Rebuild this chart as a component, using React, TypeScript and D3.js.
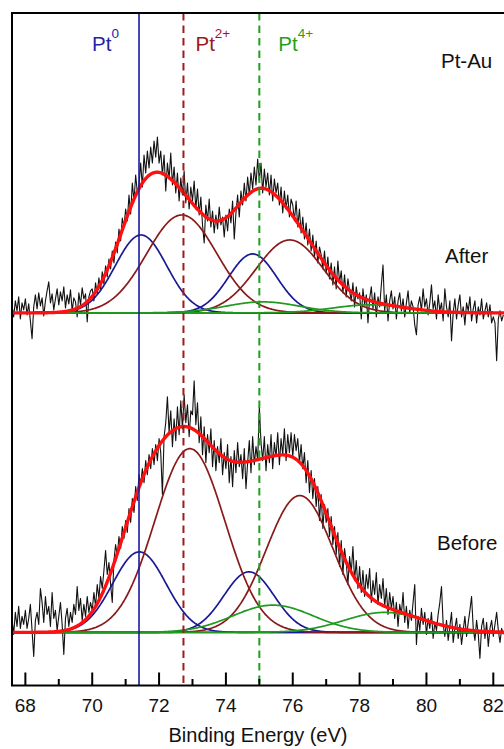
import React from "react";
import * as d3 from "d3";

// ---------- data ----------
const energyStart = 67.6; // eV, first data point
const energyStep = 0.05; // eV

// Measured spectra (intensity above the fitted baseline, a.u.)
const afterCounts = [
  8, -4, 12, 2, 16, -6, 10, 3,
  14, -2, 9, -8, -26, 6, 18, 4, 20, 7, 15, -3, 12, 22, 31, 10, 19, 3, 14, 24,
  8, 21, 12, 26, 5, 18, 9, 23, 2, 15, 11, -4, 20, 8, 25, 14, 19, -9, 16, 22,
  24, 12, 30, 19, 35, 22, 41, 29, 47, 36, 54, 44, 62, 50, 71, 60, 84, 72, 95, 86,
  104, 92, 118, 99, 130, 112, 138, 120, 128, 150, 126, 158, 140, 162, 145, 166, 150, 172, 156, 176,
  150, 162, 138, 158, 122, 150, 134, 160, 128, 146, 120, 140, 112, 135, 118, 142, 110, 130, 104, 126,
  112, 132, 104, 124, 98, 116, 88, 70, 108, 92, 114, 86, 102, 80, 98, 84, 106, 88, 96, 76,
  98, 82, 104, 90, 112, 74, 100, 118, 96, 122, 108, 130, 112, 136, 118, 140, 124, 146, 128, 154,
  132, 150, 120, 144, 126, 140, 118, 138, 112, 134, 120, 130, 108, 126, 100, 122, 104, 118, 96, 114,
  108, 92, 112, 86, 104, 80, 96, 74, 90, 68, 84, 62, 78, 56, 72, 50, 66, 58, 44, 62,
  40, 56, 34, 50, 28, 46, 24, 52, 30, 42, 20, 38, 16, 34, 22, 12, 30, 6, 26, 14,
  20, -6, 24, 8, 18, -10, 14, 26, 4, 20, -4, 16, 6, 28, 48, 2, 18, -8, 12, 22,
  4, 16, -6, 12, 20, 2, 14, -4, 10, 22, 0, 12, 6, -12, -22, 8, 16, 2, 24, 6,
  14, -2, 10, 28, 4, 12, -6, 18, 2, 10, -8, 24, 6, -4, 12, -28, 0, 14, -6, 8,
  18, -4, 6, -12, 10, 2, 16, -8, 4, 12, -10, 6, -2, 14, -6, 2, 10, -4, 8, -10,
  -4, -10, -48, -6, 2, -8, -2,
];

const beforeCounts = [
  14, -2, 20, 6, 26, 4, 16, 8,
  22, 4, 14, 28, 2, -24, 12, 20, 8, 44, 30, 10, 36, 18, 26, 6, 40, 14, 22, 2,
  16, 30, 8, -22, 14, 24, 6, 20, 10, 28, 18, 46, 22, 34, 12, 28, 16, 36, 20, 30,
  22, 40, 26, 48, 34, 56, 44, 62, 82, 58, 70, 48, 30, 72, 88, 76, 96, 84, 106, 94,
  112, 100, 124, 110, 134, 120, 146, 132, 158, 148, 164, 150, 172, 158, 178, 164, 184, 168, 188, 172,
  194, 180, 138, 196, 210, 236, 200, 222, 186, 214, 192, 226, 198, 232, 204, 238, 210, 228, 196, 222,
  218, 252, 208, 230, 190, 216, 178, 206, 170, 198, 180, 204, 166, 192, 162, 186, 170, 194, 158, 180,
  164, 188, 150, 176, 146, 182, 160, 190, 166, 178, 154, 184, 144, 170, 192, 160, 196, 168, 186, 172,
  226, 190, 172, 196, 162, 188, 170, 198, 164, 190, 176, 200, 168, 194, 178, 204, 172, 198, 180, 200,
  176, 198, 182, 194, 170, 188, 164, 180, 150, 172, 140, 162, 134, 154, 126, 146, 112, 138, 104, 128,
  110, 124, 96, 116, 88, 106, 78, 100, 66, 92, 58, 84, 70, 48, 76, 60, 86, 52, 72, 44,
  66, 40, 62, 36, 58, 44, 64, 30, 52, 38, 60, 28, 48, 34, 54, 26, 44, 18, 40, 24,
  36, 14, 30, 6, 28, 18, 40, 10, 26, 4, 22, 12, 30, 48, -12, 16, 2, 24, 8, 20,
  -2, 14, 4, 20, -6, 10, 2, 18, 30, 46, 8, -4, 12, -8, 6, 20, -10, 4, 14, -6,
  8, -12, 2, 16, -4, 10, 22, 36, 4, -8, 12, -2, -26, 6, 14, -6, 10, -14, 4, 12,
  -4, 8, 20, 2, -10, 4, -2,
];

// Fitted peaks: [Pt0 4f7/2, Pt0 4f5/2, Pt2+ 4f7/2, Pt2+ 4f5/2, Pt4+ 4f7/2, Pt4+ 4f5/2]
const peakSpecies = [0, 0, 1, 1, 2, 2];
const afterCenters = [71.46, 74.8, 72.68, 75.91, 75.1, 78.3];
const afterHeights = [78, 59, 98, 73, 11, 8];
const afterFwhm = [1.81, 1.7, 2.47, 2.36, 2.6, 2.6];
const beforeCenters = [71.41, 74.69, 72.92, 76.21, 75.41, 78.75];
const beforeHeights = [80.6, 60.6, 184, 137, 27.3, 20];
const beforeFwhm = [1.88, 1.77, 2.47, 2.36, 2.83, 2.83];

const panelNames = ["After", "Before"];
const panelOffsets = [320, 0]; // vertical stacking offset (a.u.)

const refEnergies = [71.4, 72.73, 75.0];
const refSuperscripts = ["0", "2+", "4+"];

const majorTicks = [68, 70, 72, 74, 76, 78, 80, 82];
const minorTicks = [69, 71, 73, 75, 77, 79, 81];

const sampleTitle = "Pt-Au";
const xTitle = "Binding Energy (eV)";

// ---------- styles ----------
const FONT = "'Liberation Sans', Arial, Helvetica, sans-serif";
const speciesColors = ["#1a1a94", "#8a1a1a", "#1f9a1f"];
const refColors = ["#1a1aa0", "#a01c1c", "#1fa01f"];
const labelColors = ["#2424a6", "#9c1a1a", "#22a022"];

const W = 504;
const H = 749;
const plot = { left: 12, right: 505, top: 13, bottom: 685.5 };

export default function App() {
  const x = d3.scaleLinear().domain([67.6, 82.35]).range([plot.left, plot.right]);
  const y = d3.scaleLinear().domain([-53.2, 620.3]).range([plot.bottom, plot.top]);

  const fineGrid = d3.range(67.5, 82.5, 0.02);
  const gauss = (e: number, c: number, h: number, w: number) => {
    const s = w / 2.3548;
    return h * Math.exp(-((e - c) * (e - c)) / (2 * s * s));
  };

  const panels = [
    { name: panelNames[0], counts: afterCounts, c: afterCenters, h: afterHeights, w: afterFwhm, off: panelOffsets[0] },
    { name: panelNames[1], counts: beforeCounts, c: beforeCenters, h: beforeHeights, w: beforeFwhm, off: panelOffsets[1] },
  ];

  const line = d3
    .line<[number, number]>()
    .x((d) => x(d[0]))
    .y((d) => y(d[1]));

  return (
    <div style={{ position: "absolute", left: 0, top: 0 }}>
      <svg width={W} height={H} style={{ display: "block", background: "#fff" }} fontFamily={FONT}>
        <defs>
          <clipPath id="plotclip">
            <rect x={plot.left} y={plot.top} width={plot.right - plot.left} height={plot.bottom - plot.top} />
          </clipPath>
        </defs>
        <rect x={0} y={0} width={W} height={H} fill="#fff" />

        <g clipPath="url(#plotclip)">
          {panels.map((p, pi) => {
            const dataPts: [number, number][] = p.counts.map((v, i) => [energyStart + i * energyStep, v + p.off]);
            const comps = p.c.map((c, k) => fineGrid.map((e) => [e, gauss(e, c, p.h[k], p.w[k]) + p.off] as [number, number]));
            const env = fineGrid.map((e) => {
              let s = 0;
              p.c.forEach((c, k) => (s += gauss(e, c, p.h[k], p.w[k])));
              return [e, s + p.off] as [number, number];
            });
            return (
              <g key={pi}>
                <path d={line(dataPts) || ""} fill="none" stroke="#111" strokeWidth={1.1} strokeLinejoin="round" />
                <line x1={plot.left} x2={plot.right} y1={y(p.off)} y2={y(p.off)} stroke="#2d5a2d" strokeWidth={1.6} />
                {comps.map((pts, k) => (
                  <path key={k} d={line(pts) || ""} fill="none" stroke={speciesColors[peakSpecies[k]]} strokeWidth={1.7} />
                ))}
                <path d={line(env) || ""} fill="none" stroke="#ff1010" strokeWidth={3.4} strokeLinejoin="round" />
              </g>
            );
          })}

          {refEnergies.map((e, i) => (
            <line
              key={i}
              x1={x(e)}
              x2={x(e)}
              y1={plot.top}
              y2={plot.bottom}
              stroke={refColors[i]}
              strokeWidth={i === 0 ? 1.6 : 2}
              strokeDasharray={i === 0 ? undefined : "7.5,5"}
            />
          ))}
        </g>

        {/* frame */}
        <rect
          x={plot.left}
          y={plot.top}
          width={plot.right - plot.left}
          height={plot.bottom - plot.top}
          fill="none"
          stroke="#000"
          strokeWidth={2}
        />

        {/* ticks */}
        {majorTicks.map((t) => (
          <g key={"M" + t}>
            <line x1={x(t)} x2={x(t)} y1={plot.bottom} y2={plot.bottom - 13} stroke="#000" strokeWidth={2} />
            <text x={x(t)} y={711.5} textAnchor="middle" fontSize={19} fill="#111">
              {t}
            </text>
          </g>
        ))}
        {minorTicks.map((t) => (
          <line key={"m" + t} x1={x(t)} x2={x(t)} y1={plot.bottom} y2={plot.bottom - 6.5} stroke="#000" strokeWidth={2} />
        ))}

        <text x={258} y={741.5} textAnchor="middle" fontSize={20} fill="#111">
          {xTitle}
        </text>

        {/* species labels */}
        {refEnergies.map((e, i) => {
          const xs = i === 0 ? x(e) - 47 : i === 1 ? x(e) + 12 : x(e) + 19;
          return (
            <text key={"l" + i} x={xs} y={50.7} fontSize={20.5} fill={labelColors[i]}>
              Pt
              <tspan dy={-13} fontSize={13.5}>
                {refSuperscripts[i]}
              </tspan>
            </text>
          );
        })}

        <text x={441} y={68.3} fontSize={20.5} fill="#111">
          {sampleTitle}
        </text>
        <text x={445} y={263} fontSize={20.5} fill="#111">
          {panelNames[0]}
        </text>
        <text x={437} y={550} fontSize={20.5} fill="#111">
          {panelNames[1]}
        </text>
      </svg>
    </div>
  );
}
